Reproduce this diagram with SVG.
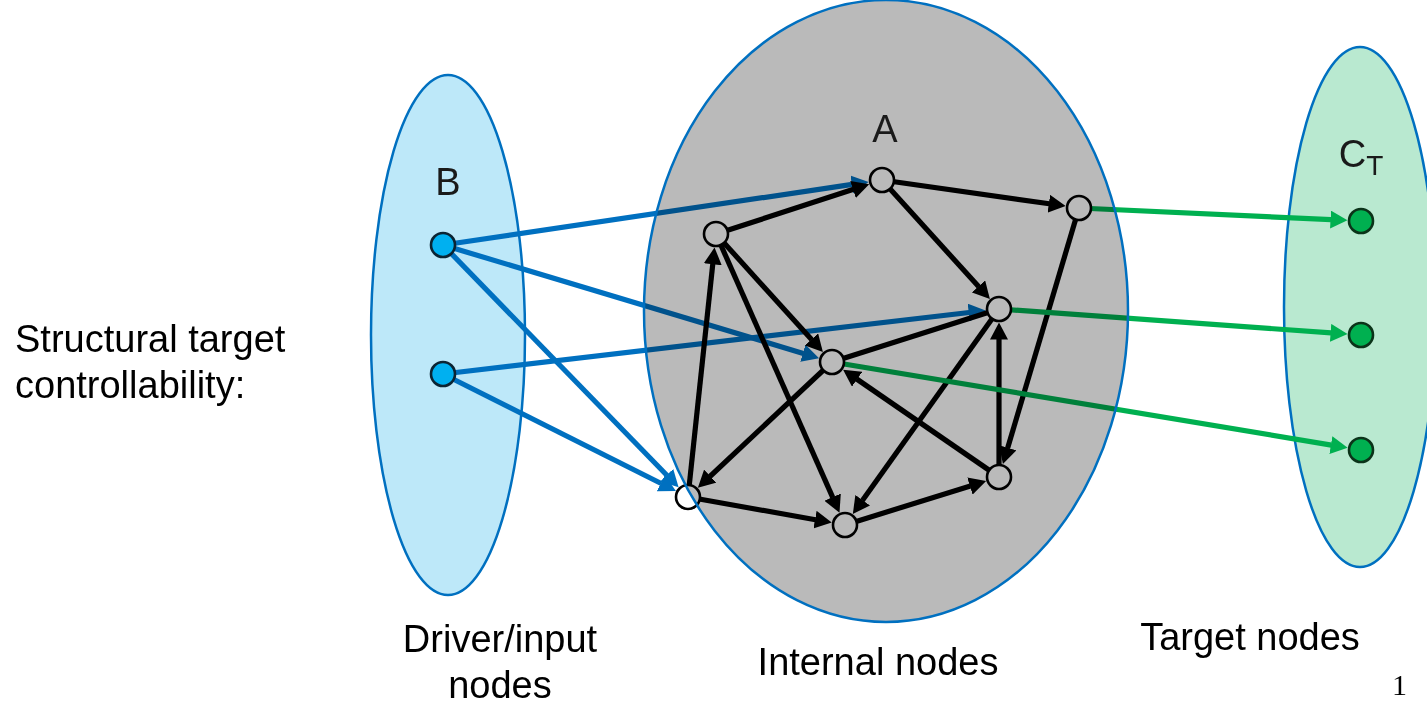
<svg xmlns="http://www.w3.org/2000/svg" width="1427" height="708" viewBox="0 0 1427 708">
  <style>
    .set { stroke: #0070C0; stroke-width: 2.5; }
    .edge { fill: none; stroke-width: 5.2; }
    .blk { stroke: #000; }
    .blu { stroke: #0070C0; }
    .grn { stroke: #00B050; }
    .node { stroke: #000; stroke-width: 2.6; }
    .inner { fill: #fff; }
    .drv { fill: #00B0F0; stroke: #0b2433; }
    .tgt { fill: #00B050; stroke: #0b3319; }
    .lbl { font-family: "Liberation Sans", Arial, sans-serif; fill: #000; }
    .set-name { font-family: "Liberation Sans", Arial, sans-serif; font-size: 38px; fill: #1a1a1a; text-anchor: middle; }
  </style>
  <defs>
    <marker id="ah-k" markerUnits="userSpaceOnUse" markerWidth="18" markerHeight="18" refX="0.5" refY="9" orient="auto">
      <path d="M0,0 L17,9 L0,18 z" fill="#000"/>
    </marker>
    <marker id="ah-b" markerUnits="userSpaceOnUse" markerWidth="18" markerHeight="18" refX="0.5" refY="9" orient="auto">
      <path d="M0,0 L17,9 L0,18 z" fill="#0070C0"/>
    </marker>
    <marker id="ah-g" markerUnits="userSpaceOnUse" markerWidth="18" markerHeight="18" refX="0.5" refY="9" orient="auto">
      <path d="M0,0 L17,9 L0,18 z" fill="#00B050"/>
    </marker>
  </defs>

  <rect width="1427" height="708" fill="#fff"/>

  <!-- driver / input set -->
  <g id="set-B">
    <ellipse class="set" cx="448" cy="335" rx="77" ry="260" fill="#BDE8F9"/>
    <text class="set-name" x="448" y="195">B</text>
  </g>

  <!-- target set -->
  <g id="set-CT">
    <ellipse class="set" cx="1360" cy="307" rx="76" ry="260" fill="#B9E9D0"/>
    <text class="set-name" x="1361" y="167">C<tspan font-size="28" dy="8">T</tspan></text>
  </g>

  <!-- connectors: each arrow line stops 30px short of the target centre
       (node radius 13 + arrowhead length 17) -->
  <g id="connectors">
    <!-- inputs -->
    <line class="edge blu" x1="443" y1="245" x2="852.3" y2="184.4" marker-end="url(#ah-b)"/>
    <line class="edge blu" x1="443" y1="245" x2="803.3" y2="353.4" marker-end="url(#ah-b)"/>
    <line class="edge blu" x1="443" y1="245" x2="667.1" y2="475.5" marker-end="url(#ah-b)"/>
    <line class="edge blu" x1="443" y1="374" x2="969.2" y2="312.5" marker-end="url(#ah-b)"/>
    <line class="edge blu" x1="443" y1="374" x2="661.2" y2="483.5" marker-end="url(#ah-b)"/>
    <!-- internal -->
    <line class="edge blk" x1="716" y1="234" x2="853.5" y2="189.3" marker-end="url(#ah-k)"/>
    <line class="edge blk" x1="882" y1="180" x2="1049.3" y2="203.8" marker-end="url(#ah-k)"/>
    <line class="edge blk" x1="882" y1="180" x2="978.8" y2="286.8" marker-end="url(#ah-k)"/>
    <line class="edge blk" x1="716" y1="234" x2="811.8" y2="339.8" marker-end="url(#ah-k)"/>
    <line class="edge blk" x1="716" y1="234" x2="832.8" y2="497.6" marker-end="url(#ah-k)"/>
    <line class="edge blk" x1="688" y1="497" x2="712.8" y2="263.8" marker-end="url(#ah-k)"/>
    <line class="edge blk" x1="832" y1="362" x2="709.9" y2="476.5" marker-end="url(#ah-k)"/>
    <line class="edge blk" x1="688" y1="497" x2="815.5" y2="519.7" marker-end="url(#ah-k)"/>
    <line class="edge blk" x1="845" y1="525" x2="970.4" y2="485.9" marker-end="url(#ah-k)"/>
    <line class="edge blk" x1="999" y1="309" x2="862.4" y2="500.6" marker-end="url(#ah-k)"/>
    <line class="edge blk" x1="999" y1="477" x2="999" y2="339" marker-end="url(#ah-k)"/>
    <line class="edge blk" x1="999" y1="477" x2="856.7" y2="379.0" marker-end="url(#ah-k)"/>
    <line class="edge blk" x1="1079" y1="208" x2="1007.6" y2="448.2" marker-end="url(#ah-k)"/>
    <line class="edge blk" x1="832" y1="362" x2="999" y2="309"/>
    <!-- outputs -->
    <line class="edge grn" x1="1079" y1="208" x2="1331.0" y2="219.6" marker-end="url(#ah-g)"/>
    <line class="edge grn" x1="999" y1="309" x2="1331.1" y2="332.9" marker-end="url(#ah-g)"/>
    <line class="edge grn" x1="832" y1="362" x2="1331.4" y2="445.1" marker-end="url(#ah-g)"/>
  </g>

  <!-- driver nodes -->
  <g id="b1"><circle class="node drv" cx="443" cy="245" r="12"/></g>
  <g id="b2"><circle class="node drv" cx="443" cy="374" r="12"/></g>

  <!-- internal nodes -->
  <g id="n1"><circle class="node inner" cx="882" cy="180" r="12"/></g>
  <g id="n2"><circle class="node inner" cx="716" cy="234" r="12"/></g>
  <g id="n3"><circle class="node inner" cx="1079" cy="208" r="12"/></g>
  <g id="n4"><circle class="node inner" cx="999" cy="309" r="12"/></g>
  <g id="n5"><circle class="node inner" cx="832" cy="362" r="12"/></g>
  <g id="n6"><circle class="node inner" cx="688" cy="497" r="12"/></g>
  <g id="n7"><circle class="node inner" cx="845" cy="525" r="12"/></g>
  <g id="n8"><circle class="node inner" cx="999" cy="477" r="12"/></g>

  <!-- target nodes -->
  <g id="c1"><circle class="node tgt" cx="1361" cy="221" r="12"/></g>
  <g id="c2"><circle class="node tgt" cx="1361" cy="335" r="12"/></g>
  <g id="c3"><circle class="node tgt" cx="1361" cy="450" r="12"/></g>

  <!-- internal set: grey tint multiplied over the network -->
  <g id="set-A">
    <ellipse cx="886" cy="311" rx="242" ry="311" fill="#BABABA" style="mix-blend-mode:multiply"/>
    <ellipse class="set" cx="886" cy="311" rx="242" ry="311" fill="none"/>
    <text class="set-name" x="885" y="142">A</text>
  </g>

  <!-- captions -->
  <g id="captions" class="lbl" font-size="38">
    <text x="15" y="352">Structural target</text>
    <text x="15" y="398">controllability:</text>
    <text x="500" y="652" text-anchor="middle">Driver/input</text>
    <text x="500" y="698" text-anchor="middle">nodes</text>
    <text x="878" y="675" text-anchor="middle">Internal nodes</text>
    <text x="1250" y="650" text-anchor="middle">Target nodes</text>
  </g>
  <text x="1392" y="695" font-family="'Liberation Serif', 'Times New Roman', serif" font-size="30" fill="#000">1</text>
</svg>
